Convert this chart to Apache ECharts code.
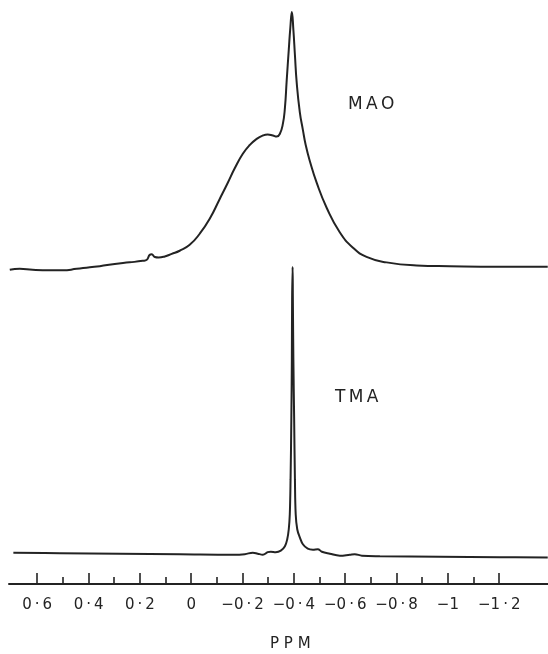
<!DOCTYPE html>
<html>
<head>
<meta charset="utf-8">
<script src="https://cdn.jsdelivr.net/npm/echarts@6/dist/echarts.min.js"></script>
<style>
  html, body { margin: 0; padding: 0; background: #fff; }
  #main { width: 548px; height: 654px; }
</style>
</head>
<body>
<div id="main"></div>
<script>
// chemical shift range shown (ppm, axis runs right to left)
var ppmMin = -1.39;
var ppmMax = 0.71;

// tick positions and labels
var majorTicks = [0.6, 0.4, 0.2, 0, -0.2, -0.4, -0.6, -0.8, -1, -1.2];
var majorLabels = ['0\u2009·\u20096', '0\u2009·\u20094', '0\u2009·\u20092', '0',
  '\u22120\u2009·\u20092', '\u22120\u2009·\u20094', '\u22120\u2009·\u20096',
  '\u22120\u2009·\u20098', '\u22121', '\u22121\u2009·\u20092'];
var minorTicks = [0.5, 0.3, 0.1, -0.1, -0.3, -0.5, -0.7, -0.9, -1.1];

// MAO spectrum (upper trace), relative intensity
var maoPpm = [0.707, 0.668, 0.618, 0.551, 0.501, 0.446, 0.395, 0.356, 0.298, 0.240,
  0.189, 0.173, 0.162, 0.154, 0.142, 0.127, 0.103, 0.076, 0.045, 0.006,
  -0.033, -0.072, -0.111, -0.142, -0.170, -0.201, -0.228, -0.255, -0.279, -0.298,
  -0.318, -0.333, -0.345, -0.357, -0.365, -0.372, -0.380, -0.386, -0.392, -0.398,
  -0.404, -0.411, -0.423, -0.435, -0.446, -0.462, -0.489, -0.528, -0.578, -0.629,
  -0.683, -0.761, -0.878, -1.007, -1.201, -1.389];
var maoInt = [0, 0.4, 0, -0.2, -0.2, 0.4, 1.0, 1.4, 2.3, 2.9,
  3.5, 3.9, 5.8, 6.0, 5.0, 4.8, 5.2, 6.2, 7.4, 9.7,
  14.0, 19.8, 27.5, 33.7, 39.5, 45.0, 48.4, 50.8, 52.1, 52.5,
  52.1, 51.7, 52.7, 56.6, 62.8, 73.6, 85.3, 93.8, 100, 93.0,
  83.3, 72.5, 61.2, 54.3, 48.4, 42.2, 33.7, 24.0, 14.7, 8.7,
  5.0, 2.9, 1.7, 1.4, 1.2, 1.2];

// TMA spectrum (lower trace), relative intensity
var tmaPpm = [0.693, 0.512, 0.278, 0.045, -0.162, -0.209, -0.240, -0.259, -0.279, -0.298,
  -0.310, -0.329, -0.349, -0.365, -0.374, -0.380, -0.384, -0.387, -0.390, -0.392,
  -0.393, -0.395, -0.396, -0.398, -0.401, -0.404, -0.407, -0.413, -0.423, -0.435,
  -0.454, -0.474, -0.493, -0.509, -0.540, -0.579, -0.618, -0.637, -0.665, -0.735,
  -0.968, -1.202, -1.389];
var tmaInt = [0.87, 0.69, 0.52, 0.35, 0.17, 0.35, 0.87, 0.52, 0.17, 1.04,
  1.21, 1.04, 1.56, 3.11, 5.54, 9.0, 14.2, 26.3, 47.1, 67.8,
  88.6, 100, 88.6, 67.8, 47.1, 26.3, 14.2, 9.0, 6.2, 3.8,
  2.25, 1.9, 2.08, 1.21, 0.52, -0.17, 0.17, 0.35, -0.17, -0.35,
  -0.52, -0.69, -0.80];

function pairs(xs, ys) {
  return xs.map(function (x, i) { return [x, ys[i]]; });
}

var ink = '#232323';
var font = '"DejaVu Sans", sans-serif';

var chart = echarts.init(document.getElementById('main'), null, { renderer: 'canvas' });

function ppmAxis(grid, extra) {
  var ax = {
    type: 'value', gridIndex: grid, min: ppmMin, max: ppmMax, inverse: true,
    position: 'bottom',
    axisLine: { show: false, onZero: false }, axisTick: { show: false },
    axisLabel: { show: false }, splitLine: { show: false }
  };
  return Object.assign(ax, extra || {});
}

chart.setOption({
  animation: false,
  backgroundColor: '#fff',
  grid: [
    { left: 9, right: 0, top: 12, height: 263 },   // MAO
    { left: 9, right: 0, top: 267, height: 317 },  // TMA + main axis
    { left: 9, right: 0, top: 267, height: 317 }   // minor ticks only
  ],
  xAxis: [
    ppmAxis(0),
    ppmAxis(1, {
      axisLine: { show: true, onZero: false, lineStyle: { color: ink, width: 2 } },
      axisTick: { show: true, inside: true, length: 11, customValues: majorTicks,
        lineStyle: { color: ink, width: 1.6 } },
      axisLabel: {
        show: true, customValues: majorTicks, margin: 14,
        color: ink, fontSize: 15, fontFamily: font,
        formatter: function (v) {
          for (var i = 0; i < majorTicks.length; i++) {
            if (Math.abs(majorTicks[i] - v) < 1e-6) return majorLabels[i];
          }
          return '';
        }
      }
    }),
    ppmAxis(2, {
      axisTick: { show: true, inside: true, length: 7, customValues: minorTicks,
        lineStyle: { color: ink, width: 1.6 } }
    })
  ],
  yAxis: [
    { type: 'value', gridIndex: 0, min: -2, max: 100, show: false },
    { type: 'value', gridIndex: 1, min: -10, max: 100, show: false },
    { type: 'value', gridIndex: 2, min: 0, max: 1, show: false }
  ],
  series: [
    {
      name: 'MAO', type: 'line', xAxisIndex: 0, yAxisIndex: 0,
      data: pairs(maoPpm, maoInt), showSymbol: false, clip: false,
      smooth: 0.5,
      lineStyle: { color: ink, width: 2 }
    },
    {
      name: 'TMA', type: 'line', xAxisIndex: 1, yAxisIndex: 1,
      data: pairs(tmaPpm, tmaInt), showSymbol: false, clip: false,
      smooth: 0.4,
      lineStyle: { color: ink, width: 2 }
    }
  ],
  graphic: [
    { type: 'text', left: 348, top: 96,
      style: { text: 'M\u2009A\u2009O', font: '17px ' + font, fill: ink } },
    { type: 'text', left: 335, top: 389,
      style: { text: 'T\u2009M\u2009A', font: '17px ' + font, fill: ink } },
    { type: 'text', left: 270, top: 637,
      style: { text: 'P P M', font: '15px ' + font, fill: ink } }
  ]
});
</script>
</body>
</html>
